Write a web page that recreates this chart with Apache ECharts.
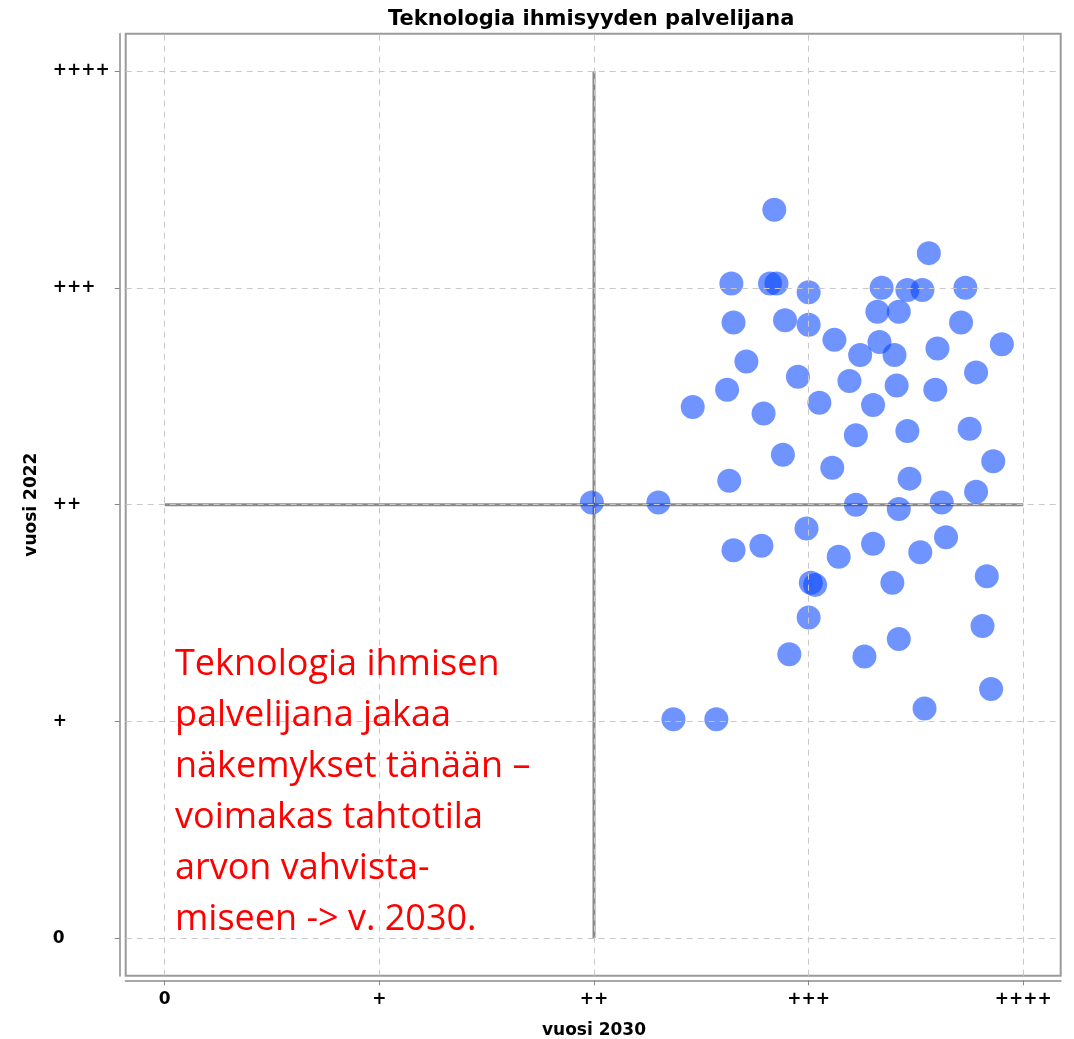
<!DOCTYPE html>
<html>
<head>
<meta charset="utf-8">
<script src="https://cdn.jsdelivr.net/npm/echarts@6/dist/echarts.min.js"></script>
<style>
  html, body { margin: 0; padding: 0; background: #fff; }
  #chart { width: 1074px; height: 1039px; }
</style>
</head>
<body>
<div id="chart"></div>
<script>
// ---- Data ----
var titleText = 'Teknologia ihmisyyden palvelijana';
var xAxisName = 'vuosi 2030';
var yAxisName = 'vuosi 2022';
var tickLabels = ['0', '+', '++', '+++', '++++'];
var tickValues = [0, 1, 2, 3, 4];

// vuosi 2030 (x) values for each respondent point
var x2030 = [
  2.84, 3.56, 2.64, 2.82, 2.85, 3.00, 3.34, 3.46, 3.53, 3.73,
  2.65, 2.89, 3.00, 3.32, 3.42, 3.71, 3.12, 3.33, 3.24, 3.40,
  3.60, 3.90, 2.71, 2.95, 3.19, 3.41, 3.59, 3.78, 2.62, 2.46,
  2.79, 3.05, 3.30, 3.22, 3.46, 3.75, 2.88, 3.11, 3.86, 2.63,
  3.47, 3.78, 1.99, 2.30, 3.22, 3.42, 3.62, 2.99, 2.65, 2.78,
  3.14, 3.30, 3.52, 3.64, 3.01, 3.03, 3.39, 3.83, 3.00, 3.81,
  3.42, 2.91, 3.26, 3.85, 3.54, 2.37, 2.57
];
// vuosi 2022 (y) values for each respondent point
var y2022 = [
  3.36, 3.16, 3.02, 3.02, 3.02, 2.98, 3.00, 2.99, 2.99, 3.00,
  2.84, 2.85, 2.83, 2.89, 2.89, 2.84, 2.76, 2.75, 2.69, 2.69,
  2.72, 2.74, 2.66, 2.59, 2.57, 2.55, 2.53, 2.61, 2.53, 2.45,
  2.42, 2.47, 2.46, 2.32, 2.34, 2.35, 2.23, 2.17, 2.20, 2.11,
  2.12, 2.06, 2.01, 2.01, 2.00, 1.98, 2.01, 1.89, 1.79, 1.81,
  1.76, 1.82, 1.78, 1.85, 1.64, 1.63, 1.64, 1.67, 1.48, 1.44,
  1.38, 1.31, 1.30, 1.15, 1.06, 1.01, 1.01
];
// reference cross at "++" / "++"
var crossH = [[0, 2], [4, 2]];
var crossV = [[2, 0], [2, 4]];

var noteLines = [
  'Teknologia ihmisen',
  'palvelijana jakaa',
  'näkemykset tänään –',
  'voimakas tahtotila',
  'arvon vahvista-',
  'miseen -> v. 2030.'
];

// ---- Build ----
var points = x2030.map(function (x, i) { return [x, y2022[i]]; });
var gridMarks = [];
tickValues.forEach(function (v) { gridMarks.push({ yAxis: v }); });
tickValues.forEach(function (v) { gridMarks.push({ xAxis: v }); });

var FONT = 'DejaVu Sans';
var chart = echarts.init(document.getElementById('chart'), null, { renderer: 'canvas' });

chart.setOption({
  animation: false,
  backgroundColor: '#fff',
  title: {
    text: titleText,
    left: 388,
    top: 9,
    padding: 0,
    textStyle: { fontFamily: FONT, fontWeight: 'bold', fontSize: 21, color: '#000' }
  },
  grid: [
    { // outer frame
      left: 125.7, right: 13.3, top: 33.7, bottom: 63.3,
      outerBoundsMode: 'none', containLabel: false,
      show: true, borderColor: '#9a9a9a', borderWidth: 2, backgroundColor: 'transparent'
    },
    { // value region 0..4
      left: 164.7, right: 50.7, top: 71, bottom: 100.7,
      outerBoundsMode: 'none', containLabel: false
    }
  ],
  xAxis: [
    {
      gridIndex: 0, type: 'value', min: -0.1817, max: 4.174, offset: 5,
      axisLine: { show: true, onZero: false, lineStyle: { color: '#a8a8a8', width: 2 } },
      axisTick: { show: false }, axisLabel: { show: false }, splitLine: { show: false }
    },
    {
      gridIndex: 1, type: 'value', min: 0, max: 4, interval: 1, offset: 42,
      axisLine: { show: false, onZero: false },
      axisTick: { show: true, length: 5, lineStyle: { color: '#888' } },
      axisLabel: {
        margin: 11, fontFamily: FONT, fontWeight: 'bold', fontSize: 17, color: '#000',
        formatter: function (v) { return tickLabels[Math.round(v)]; }
      },
      splitLine: { show: false },
      name: xAxisName, nameLocation: 'middle', nameGap: 42,
      nameTextStyle: { fontFamily: FONT, fontWeight: 'bold', fontSize: 17, color: '#000' }
    }
  ],
  yAxis: [
    {
      gridIndex: 0, type: 'value', min: -0.1725, max: 4.172, offset: 6,
      axisLine: { show: true, onZero: false, lineStyle: { color: '#a8a8a8', width: 2 } },
      axisTick: { show: false }, axisLabel: { show: false }, splitLine: { show: false }
    },
    {
      gridIndex: 1, type: 'value', min: 0, max: 4, interval: 1, offset: 45,
      axisLine: { show: false, onZero: false },
      axisTick: { show: true, length: 5, lineStyle: { color: '#888' } },
      axisLabel: {
        margin: 67, align: 'left', fontFamily: FONT, fontWeight: 'bold', fontSize: 17, color: '#000',
        formatter: function (v) { return tickLabels[Math.round(v)]; }
      },
      splitLine: { show: false },
      name: yAxisName, nameLocation: 'middle', nameGap: 80, nameRotate: 90,
      nameTextStyle: { fontFamily: FONT, fontWeight: 'bold', fontSize: 17, color: '#000' }
    }
  ],
  series: [
    {
      type: 'line', xAxisIndex: 0, yAxisIndex: 0, data: [], silent: true, z: 1,
      markLine: {
        silent: true, symbol: ['none', 'none'], label: { show: false },
        lineStyle: { color: '#c8c8c8', type: [6, 5], width: 1 },
        data: gridMarks,
        animation: false
      }
    },
    {
      type: 'line', xAxisIndex: 1, yAxisIndex: 1, data: crossH, symbol: 'none', silent: true, z: 2,
      lineStyle: { color: '#8a8a8a', width: 3 }
    },
    {
      type: 'line', xAxisIndex: 1, yAxisIndex: 1, data: crossV, symbol: 'none', silent: true, z: 2,
      lineStyle: { color: '#8a8a8a', width: 3 }
    },
    {
      type: 'scatter', xAxisIndex: 1, yAxisIndex: 1, data: points, symbolSize: 24, z: 3,
      itemStyle: { color: 'rgba(0,64,255,0.7)' }
    }
  ],
  graphic: [
    {
      type: 'text', left: 175, top: 639, z: 10,
      style: {
        text: noteLines.join('\n'),
        font: '36px "Open Sans"',
        lineHeight: 51,
        fill: '#ff0000'
      }
    }
  ]
});
</script>
</body>
</html>
